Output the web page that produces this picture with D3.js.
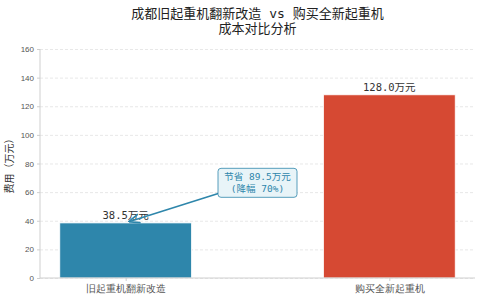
<!DOCTYPE html>
<html>
<head>
<meta charset="utf-8">
<script src="https://cdn.jsdelivr.net/npm/d3@7"></script>
<style>
  body { margin: 0; background: #fff; }
  svg { display: block; font-family: "Noto Sans CJK SC", "DejaVu Sans", sans-serif; }
  .mono { font-family: "DejaVu Sans Mono", "Noto Sans CJK SC", monospace; }
  .grid line { stroke: #d8d8d8; stroke-dasharray: 3 2; stroke-width: 0.6; }
  .axis text { fill: #555; }
  .axis path, .axis line { stroke: #cfcfcf; }
</style>
</head>
<body>
<div id="chart"></div>
<script>
const categories = ["旧起重机翻新改造", "购买全新起重机"];
const costs = [38.5, 128.0];
const barColors = ["#2E86AB", "#D64933"];
const yTicks = [0, 20, 40, 60, 80, 100, 120, 140, 160];
const titleLines = ["成都旧起重机翻新改造 vs 购买全新起重机", "成本对比分析"];
const yLabel = "费用（万元）";
const noteLines = ["节省 89.5万元", "(降幅 70%)"];
const notePos = [0.5, 66.5];

const width = 480, height = 300;
const margin = { top: 49, right: 5, bottom: 22, left: 40 };
const innerW = width - margin.left - margin.right;
const innerH = height - margin.top - margin.bottom;

const svg = d3.select("#chart").append("svg").attr("width", width).attr("height", height);
const g = svg.append("g").attr("transform", `translate(${margin.left},${margin.top})`);

const x = d3.scaleLinear().domain([-0.325, 1.325]).range([0, innerW]);
const y = d3.scaleLinear().domain([0, 160]).range([innerH, 0]);
const barW = x(0.5) - x(0);

// grid
g.append("g").attr("class", "grid")
  .call(d3.axisLeft(y).tickValues(yTicks).tickSize(-innerW).tickFormat(""))
  .call(s => s.select(".domain").remove());

// bars
g.selectAll("rect.bar").data(costs).enter().append("rect")
  .attr("class", "bar")
  .attr("x", (d, i) => x(i) - barW / 2)
  .attr("width", barW)
  .attr("y", d => y(d))
  .attr("height", d => y(0) - y(d))
  .attr("fill", (d, i) => barColors[i])
  .attr("stroke", "#fff")
  .attr("stroke-width", 0.8);

// value labels
g.selectAll("text.val").data(costs).enter().append("text")
  .attr("class", "val mono")
  .attr("x", (d, i) => x(i))
  .attr("y", d => y(d) - 3.5)
  .attr("text-anchor", "middle")
  .attr("font-size", 10.5)
  .attr("fill", "#333")
  .text(d => d.toFixed(1) + "万元");

// axes
const yAxis = g.append("g").attr("class", "axis")
  .call(d3.axisLeft(y).tickValues(yTicks).tickSize(3).tickPadding(3));
yAxis.selectAll("text").attr("font-size", 8);
yAxis.select(".domain").attr("d", `M0,0V${innerH}`);

const xAxis = g.append("g").attr("class", "axis")
  .attr("transform", `translate(0,${innerH})`)
  .call(d3.axisBottom(x).tickValues([0, 1]).tickSize(3).tickPadding(4).tickFormat(i => categories[i]));
xAxis.selectAll("text").attr("font-size", 10);
xAxis.select(".domain").attr("d", `M0,0H${innerW}`);

// annotation
const bx = x(notePos[0]), by = y(notePos[1]);
const boxW = 79, boxH = 29;
svg.append("defs").append("marker")
  .attr("id", "ah").attr("viewBox", "0 0 10 10").attr("refX", 9).attr("refY", 5)
  .attr("markerWidth", 7).attr("markerHeight", 7).attr("orient", "auto")
  .append("path").attr("d", "M0,1 L10,5 L0,9").attr("fill", "none")
  .attr("stroke", "#2E86AB").attr("stroke-width", 1.5);
g.append("line")
  .attr("x1", bx - boxW / 2 + 1).attr("y1", by + boxH / 2 - 4)
  .attr("x2", x(0) + 4).attr("y2", y(39.5))
  .attr("stroke", "#2E86AB").attr("stroke-width", 1.6)
  .attr("marker-end", "url(#ah)");
g.append("rect")
  .attr("x", bx - boxW / 2).attr("y", by - boxH / 2)
  .attr("width", boxW).attr("height", boxH).attr("rx", 3)
  .attr("fill", "#e8f4f8").attr("stroke", "#2E86AB").attr("stroke-width", 0.8);
g.append("text")
  .attr("class", "mono")
  .attr("x", bx).attr("y", by - 2.5)
  .attr("text-anchor", "middle").attr("font-size", 9.5).attr("fill", "#2E86AB")
  .selectAll("tspan").data(noteLines).enter().append("tspan")
  .attr("x", bx).attr("dy", (d, i) => i === 0 ? 0 : 11.5).text(d => d);

// y label
svg.append("text")
  .attr("transform", `translate(13,${margin.top + innerH / 2}) rotate(-90)`)
  .attr("text-anchor", "middle").attr("font-size", 10).attr("fill", "#333")
  .text(yLabel);

// title
svg.append("text")
  .attr("class", "mono")
  .attr("x", margin.left + innerW / 2).attr("y", 18)
  .attr("text-anchor", "middle").attr("font-size", 13).attr("fill", "#222")
  .selectAll("tspan").data(titleLines).enter().append("tspan")
  .attr("x", margin.left + innerW / 2).attr("dy", (d, i) => i === 0 ? 0 : 15).text(d => d);
</script>
</body>
</html>
